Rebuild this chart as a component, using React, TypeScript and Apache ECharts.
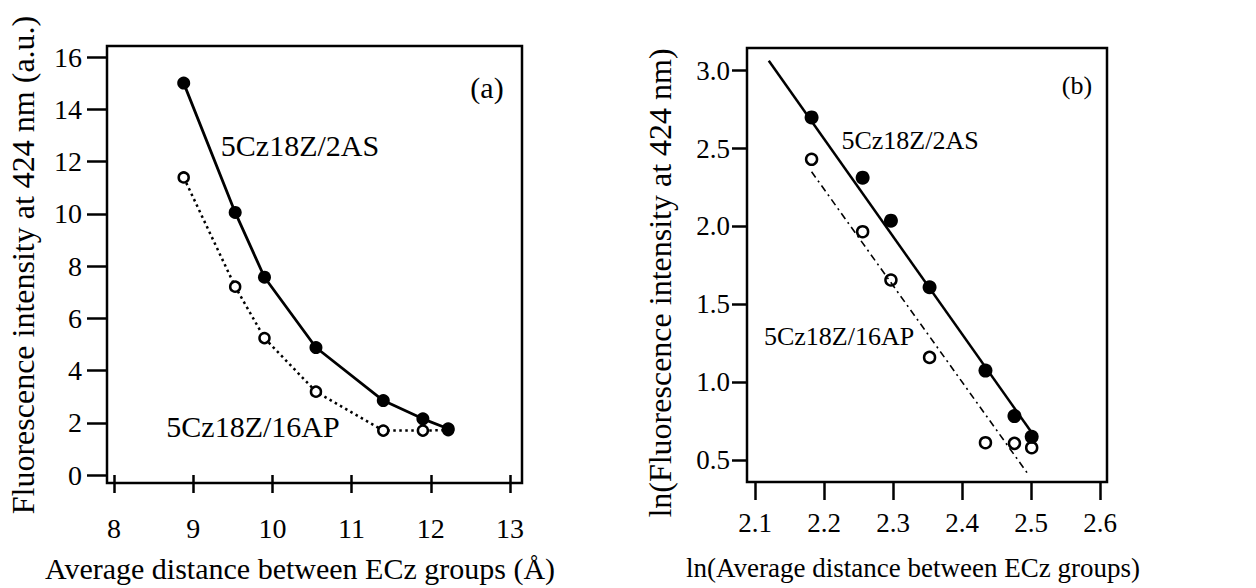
import React, { useEffect, useRef } from "react";
import * as echarts from "echarts";

const FONT = "'Liberation Serif', 'Times New Roman', Times, serif";

// Panel (a)
const dist = [8.88, 9.53, 9.9, 10.55, 11.4, 11.9, 12.22];
const as2 = [15.0, 10.05, 7.57, 4.88, 2.85, 2.15, 1.77];
const ap16 = [11.39, 7.21, 5.24, 3.19, 1.7, 1.7, 1.72];

// Panel (b)
const lnDist = [2.182, 2.256, 2.297, 2.353, 2.434, 2.476, 2.501];
const lnAs2 = [2.7, 2.313, 2.037, 1.609, 1.074, 0.782, 0.649];
const lnAp16 = [2.431, 1.966, 1.656, 1.159, 0.611, 0.607, 0.579];
const fitAs2 = [[2.12, 3.064], [2.502, 0.67]];
const fitAp16 = [[2.182, 2.351], [2.495, 0.414]];

const zip = (xs: number[], ys: number[]) => xs.map((x, i) => [x, ys[i]]);

export default function App() {
  const ref = useRef<HTMLDivElement>(null);
  useEffect(() => {
    const chart = echarts.init(ref.current!, null, { renderer: "svg" });
    const tickStyle = { color: "#000", width: 2.5 };
    const text = (t: string, x: number, y: number, size: number, rot = 0) => ({
      type: "text",
      x,
      y,
      rotation: rot,
      style: {
        text: t,
        fontFamily: FONT,
        fontSize: size,
        fill: "#000",
        textAlign: "center",
        textVerticalAlign: "middle",
      },
    });
    const frame = (x: number, y: number, w: number, h: number) => ({
      type: "rect",
      shape: { x, y, width: w, height: h },
      style: { fill: "none", stroke: "#000", lineWidth: 2.5 },
      z: 10,
    });
    const lbl = (size: number, margin: number, dec: number) => ({
      fontSize: size,
      fontFamily: FONT,
      color: "#000",
      margin,
      formatter: (v: number) => v.toFixed(dec),
    });
    chart.setOption({
      animation: false,
      backgroundColor: "#fff",
      textStyle: { fontFamily: FONT },
      grid: [
        { left: 114, top: 57, width: 396, height: 418 },
        { left: 755, top: 70.7, width: 345, height: 389.3 },
      ],
      xAxis: [
        {
          type: "value", gridIndex: 0, min: 8, max: 13, interval: 1, offset: 10,
          splitLine: { show: false }, axisLine: { show: false },
          axisTick: { show: true, length: 18, lineStyle: tickStyle },
          axisLabel: lbl(28, 29, 0),
        },
        {
          type: "value", gridIndex: 1, min: 2.1, max: 2.6, interval: 0.1, offset: 23,
          splitLine: { show: false }, axisLine: { show: false },
          axisTick: { show: true, length: 17, lineStyle: tickStyle },
          axisLabel: lbl(27, 26, 1),
        },
      ],
      yAxis: [
        {
          type: "value", gridIndex: 0, min: 0, max: 16, interval: 2, offset: 7,
          splitLine: { show: false }, axisLine: { show: false },
          axisTick: { show: true, length: 20, lineStyle: tickStyle },
          axisLabel: lbl(28, 25, 0),
        },
        {
          type: "value", gridIndex: 1, min: 0.5, max: 3.0, interval: 0.5, offset: 8,
          splitLine: { show: false }, axisLine: { show: false },
          axisTick: { show: true, length: 15, lineStyle: tickStyle },
          axisLabel: lbl(27, 17, 1),
        },
      ],
      series: [
        {
          type: "line", xAxisIndex: 0, yAxisIndex: 0, data: zip(dist, ap16), clip: false,
          symbol: "circle", symbolSize: 10,
          lineStyle: { color: "#000", width: 2.5, type: [2.5, 3.5] },
          itemStyle: { color: "#fff", borderColor: "#000", borderWidth: 2.5 },
        },
        {
          type: "line", xAxisIndex: 0, yAxisIndex: 0, data: zip(dist, as2), clip: false,
          symbol: "circle", symbolSize: 13,
          lineStyle: { color: "#000", width: 2.8 },
          itemStyle: { color: "#000" },
        },
        {
          type: "line", xAxisIndex: 1, yAxisIndex: 1, data: fitAs2, clip: false,
          symbol: "none", lineStyle: { color: "#000", width: 2.5 },
        },
        {
          type: "line", xAxisIndex: 1, yAxisIndex: 1, data: fitAp16, clip: false,
          symbol: "none", lineStyle: { color: "#000", width: 1.6, type: [7, 4, 2, 4] },
        },
        {
          type: "scatter", xAxisIndex: 1, yAxisIndex: 1, data: zip(lnDist, lnAp16), clip: false,
          symbol: "circle", symbolSize: 11,
          itemStyle: { color: "#fff", borderColor: "#000", borderWidth: 2.5, opacity: 1 },
        },
        {
          type: "scatter", xAxisIndex: 1, yAxisIndex: 1, data: zip(lnDist, lnAs2), clip: false,
          symbol: "circle", symbolSize: 14,
          itemStyle: { color: "#000", opacity: 1 },
        },
      ],
      graphic: [
        frame(107, 46, 415, 437),
        frame(747, 48, 360, 434),
        text("Fluorescence intensity at 424 nm (a.u.)", 23, 265, 32, Math.PI / 2),
        text("Average distance between ECz groups (Å)", 300, 568, 30),
        text("5Cz18Z/2AS", 300, 145, 30),
        text("5Cz18Z/16AP", 253, 426, 30),
        text("(a)", 487, 87, 30),
        text("ln(Fluorescence intensity at 424 nm)", 660, 283, 32, Math.PI / 2),
        text("ln(Average distance between ECz groups)", 913, 568, 27),
        text("5Cz18Z/2AS", 910, 140, 26),
        text("5Cz18Z/16AP", 839, 336, 26),
        text("(b)", 1077, 85, 26),
      ],
    });
    return () => chart.dispose();
  }, []);
  return (
    <div
      ref={ref}
      style={{ position: "fixed", left: 0, top: 0, width: 1256, height: 588 }}
    />
  );
}
